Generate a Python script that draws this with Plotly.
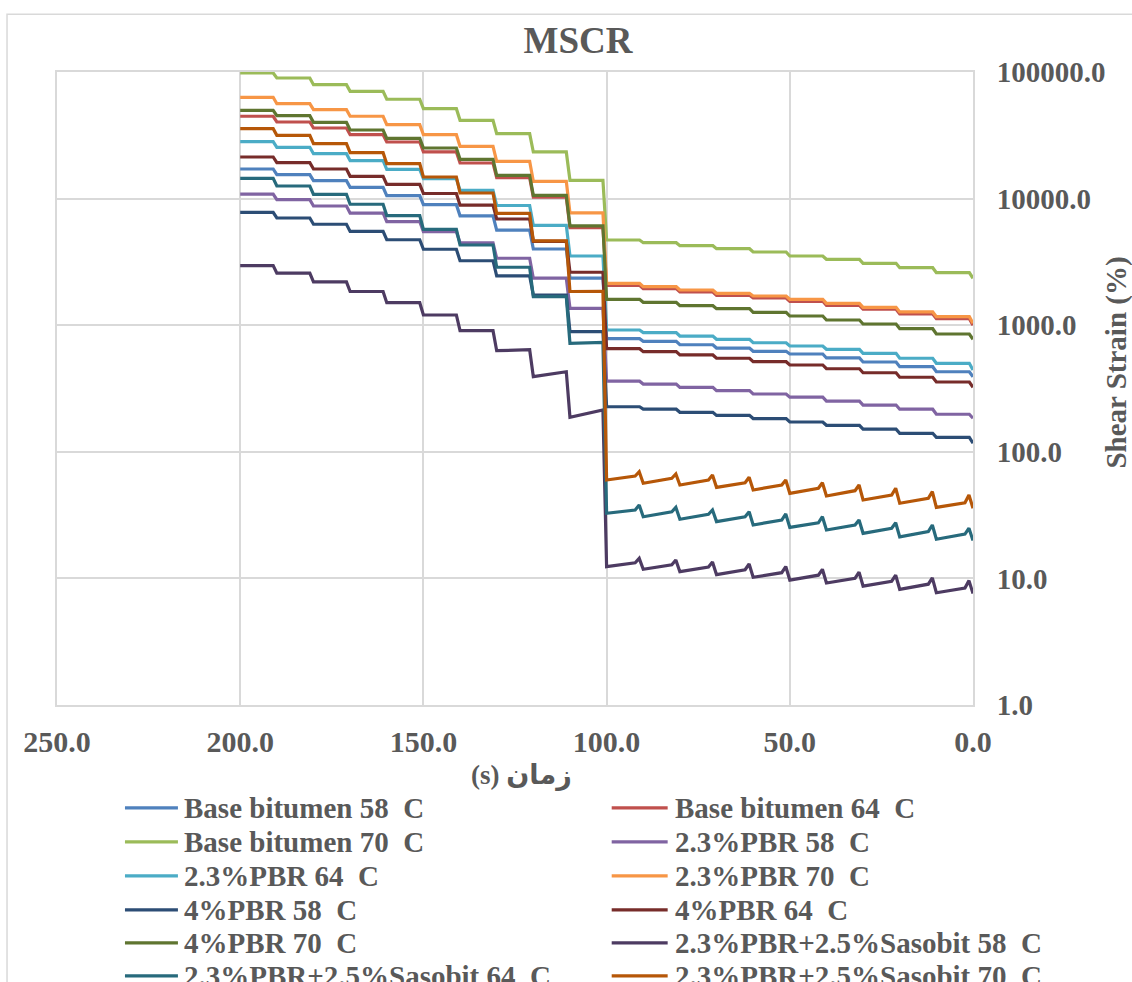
import plotly.graph_objects as go

# ---------------- data ----------------
# start time (s) of each 10 s cycle, axis runs reversed (250 -> 0)
cycle_start_s = [200, 190, 180, 170, 160, 150, 140, 130, 120, 110,
                 100, 90, 80, 70, 60, 50, 40, 30, 20, 10]
end_time_s = 0

series_names = [
    "Base bitumen 58 \u00a0C", "Base bitumen 64 \u00a0C",
    "Base bitumen 70 \u00a0C", "2.3%PBR 58 \u00a0C",
    "2.3%PBR 64 \u00a0C", "2.3%PBR 70 \u00a0C",
    "4%PBR 58 \u00a0C", "4%PBR 64 \u00a0C",
    "4%PBR 70 \u00a0C", "2.3%PBR+2.5%Sasobit 58 \u00a0C",
    "2.3%PBR+2.5%Sasobit 64 \u00a0C", "2.3%PBR+2.5%Sasobit 70 \u00a0C",
]
series_colors = ["#4F81BD", "#C0504D", "#9BBB59", "#8064A2", "#4BACC6", "#F79646",
                 "#2C4D75", "#772C2A", "#5F7530", "#4D3B62", "#276A7C", "#B65708"]

# plateau strain (%) of every cycle, plus the value reached at t = 0
base58 = [17130, 15440, 13850, 12280, 10540, 8950, 7310, 5630, 4000, 2350,
          782, 746, 701, 660, 622, 592, 551, 512, 470, 429]
base58_final = 392
base64 = [44700, 40290, 36110, 31970, 28000, 23350, 19100, 14630, 10290, 5900,
          2067, 1943, 1829, 1723, 1640, 1545, 1436, 1336, 1226, 1126]
base64_final = 998
base70 = [98200, 89700, 79400, 70400, 60900, 51300, 41550, 32550, 23350, 13950,
          4710, 4484, 4246, 4021, 3786, 3521, 3315, 3083, 2846, 2598]
base70_final = 2347
pbr23_58 = [10830, 9800, 8740, 7670, 6590, 5480, 4480, 3380, 2350, 1360,
            361, 343, 323, 304, 286, 270, 251, 234, 217, 198]
pbr23_58_final = 184
pbr23_64 = [28140, 25420, 22630, 19930, 17040, 14360, 11630, 8820, 6150, 3520,
            916, 873, 821, 774, 727, 685, 645, 600, 548, 500]
pbr23_64_final = 443
pbr23_70 = [63100, 56200, 50400, 44700, 38350, 31970, 25890, 19710, 13700, 7700,
            2143, 2014, 1897, 1786, 1701, 1602, 1489, 1385, 1272, 1167]
pbr23_70_final = 1035
pbr4_58 = [7790, 7030, 6270, 5500, 4730, 3980, 3230, 2450, 1730, 889,
           227, 217, 205, 194, 183, 172, 162, 151, 140, 130]
pbr4_58_final = 117
pbr4_64 = [21310, 19210, 17130, 15000, 12970, 10970, 8870, 6900, 4600, 2620,
           652, 618, 582, 548, 515, 485, 453, 421, 388, 356]
pbr4_64_final = 323
pbr4_70 = [49830, 45160, 40060, 34830, 29950, 25100, 20430, 15280, 10620, 6080,
           1602, 1517, 1426, 1350, 1265, 1182, 1099, 1022, 938, 852]
pbr4_70_final = 774

# Sasobit blends: value at cycle start, just before the load spike, and spike peak
sas58_start = [2960, 2575, 2200, 1846, 1506, 1204, 905, 629, 392, 187,
               12.4, 11.8, 11.3, 10.7, 10.2, 9.7, 9.2, 8.7, 8.2, 7.7]
sas58_rise = [2960, 2575, 2200, 1846, 1506, 1204, 905, 640, 429, 214,
              13.3, 12.8, 12.3, 11.7, 11.1, 10.6, 10.0, 9.5, 9.0, 8.4]
sas58_peak = [14.4, 14.0, 13.5, 13.0, 12.4, 11.8, 11.2, 10.6, 10.1, 9.6]
sas58_final = 7.6
sas64_start = [14470, 12570, 10810, 9020, 7350, 5720, 4300, 2870, 1680, 719,
               32.7, 30.7, 29.3, 28.1, 26.4, 25.3, 24.1, 22.7, 21.3, 20.4]
sas64_rise = [14470, 12570, 10810, 9020, 7350, 5720, 4300, 2870, 1680, 730,
              34.7, 33.6, 32.1, 30.7, 28.9, 27.5, 26.4, 24.9, 23.4, 22.4]
sas64_peak = [38.0, 36.4, 34.7, 33.6, 32.3, 30.7, 28.9, 27.5, 26.4, 24.9]
sas64_final = 19.9
sas70_start = [35650, 31620, 27140, 23050, 18870, 14810, 11070, 7630, 4630, 1846,
               59.9, 56.4, 54.7, 52.4, 49.9, 47.0, 44.8, 41.6, 39.2, 36.4]
sas70_rise = [35650, 31620, 27140, 23050, 18870, 14810, 11070, 7630, 4630, 1850,
              64.4, 61.8, 59.9, 57.0, 54.7, 51.5, 49.3, 45.6, 42.9, 39.6]
sas70_peak = [69.6, 66.8, 65.6, 62.9, 59.9, 57.0, 54.7, 51.5, 48.4, 45.6]
sas70_final = 35.8


# ---------------- build the curves ----------------
def staircase(levels, final):
    xs, ys = [], []
    for t0, v in zip(cycle_start_s, levels):
        xs += [t0, t0 - 9]
        ys += [v, v]
    xs.append(end_time_s)
    ys.append(final)
    return xs, ys


def sasobit_curve(start, rise, peak, final):
    xs, ys = [], []
    for k, t0 in enumerate(cycle_start_s):
        if k < 10:
            xs += [t0, t0 - 9]
            ys += [start[k], rise[k]]
        else:
            xs += [t0, t0 - 7.8, t0 - 8.9]
            ys += [start[k], rise[k], peak[k - 10]]
    xs.append(end_time_s)
    ys.append(final)
    return xs, ys


curves = [
    staircase(base58, base58_final),
    staircase(base64, base64_final),
    staircase(base70, base70_final),
    staircase(pbr23_58, pbr23_58_final),
    staircase(pbr23_64, pbr23_64_final),
    staircase(pbr23_70, pbr23_70_final),
    staircase(pbr4_58, pbr4_58_final),
    staircase(pbr4_64, pbr4_64_final),
    staircase(pbr4_70, pbr4_70_final),
    sasobit_curve(sas58_start, sas58_rise, sas58_peak, sas58_final),
    sasobit_curve(sas64_start, sas64_rise, sas64_peak, sas64_final),
    sasobit_curve(sas70_start, sas70_rise, sas70_peak, sas70_final),
]

# ---------------- figure ----------------
W, H = 1132, 982
PL, PR, PT, PB = 57, 973.5, 71.8, 705.0
TEXT = "#595959"
GRID = "#D9D9D9"
FONT = "Liberation Serif, Times New Roman, DejaVu Sans, serif"


def px_x(px):
    return (px - PL) / (PR - PL)


def px_y(py):
    return (PB - py) / (PB - PT)


fig = go.Figure()
for (xs, ys), name, color in zip(curves, series_names, series_colors):
    fig.add_trace(go.Scatter(x=xs, y=ys, mode="lines", name=name,
                             line=dict(color=color, width=3.2),
                             showlegend=False))

# hand-placed legend (two columns, as in the reference)
row_y = [808, 842, 876, 910, 943, 976]
col_line = [(125, 178), (612, 668)]
col_text = [182, 673]
shapes = []
annotations = []
for i, (name, color) in enumerate(zip(series_names, series_colors)):
    r, c = divmod(i, 2)
    y = px_y(row_y[r])
    shapes.append(dict(type="line", xref="paper", yref="paper",
                       x0=px_x(col_line[c][0]), x1=px_x(col_line[c][1]),
                       y0=y, y1=y, line=dict(color=color, width=3.2)))
    annotations.append(dict(text=name, xref="paper", yref="paper",
                            x=px_x(col_text[c]), y=y, xanchor="left", yanchor="middle",
                            showarrow=False,
                            font=dict(family=FONT, size=29, color=TEXT, weight="bold")))

# chart-area border
shapes.append(dict(type="rect", xref="paper", yref="paper", layer="below",
                   x0=px_x(7), x1=px_x(1145), y0=px_y(1000), y1=px_y(14),
                   line=dict(color=GRID, width=1.5), fillcolor="rgba(0,0,0,0)"))

# axis titles
annotations.append(dict(text="(s) زمان", xref="paper", yref="paper",
                        x=px_x(522), y=px_y(776), xanchor="center", yanchor="middle",
                        showarrow=False,
                        font=dict(family=FONT, size=27, color=TEXT, weight="bold")))
annotations.append(dict(text="Shear Strain (%)", xref="paper", yref="paper",
                        x=px_x(1117), y=px_y(362), xanchor="center", yanchor="middle",
                        textangle=-90, showarrow=False,
                        font=dict(family=FONT, size=29, color=TEXT, weight="bold")))

fig.update_layout(
    width=W, height=H,
    margin=dict(l=PL, r=W - PR, t=PT, b=H - PB, autoexpand=False, pad=0),
    paper_bgcolor="white", plot_bgcolor="white",
    showlegend=False,
    font=dict(family=FONT, color=TEXT, size=29, weight="bold"),
    title=dict(text="MSCR", x=578 / W, xanchor="center", xref="container",
               y=1 - 40 / H, yanchor="middle", yref="container",
               font=dict(family=FONT, size=37, color=TEXT, weight="bold")),
    xaxis=dict(range=[250, 0], autorange=False, tick0=0, dtick=50, tickformat=".1f",
               showgrid=True, gridcolor=GRID, gridwidth=2,
               showline=True, linecolor=GRID, linewidth=2, mirror=True,
               zeroline=False, ticks="", ticklabelstandoff=9,
               tickfont=dict(family=FONT, size=30, color=TEXT, weight="bold")),
    yaxis=dict(type="log", range=[0, 5], autorange=False, dtick=1, tickformat=".1f",
               side="right", showgrid=True, gridcolor=GRID, gridwidth=2,
               showline=True, linecolor=GRID, linewidth=2, mirror=True,
               zeroline=False, ticks="", ticklabelstandoff=16,
               tickfont=dict(family=FONT, size=29, color=TEXT, weight="bold")),
    shapes=shapes,
    annotations=annotations,
)

fig.write_html("out.html")
